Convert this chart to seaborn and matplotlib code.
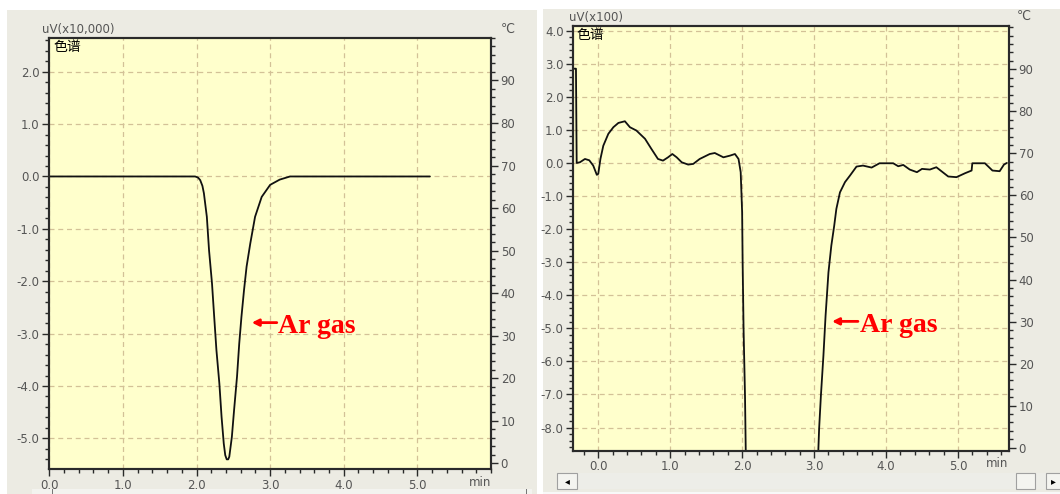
import numpy as np
import pandas as pd
import matplotlib
matplotlib.use("Agg")
import matplotlib.pyplot as plt
from matplotlib.patches import Rectangle
from matplotlib.ticker import MultipleLocator, FixedLocator
import seaborn as sns

# ---------------- data ----------------
# Left chromatogram (uV x10,000)
left_t = [0.0, 1.98, 2.02, 2.05, 2.08, 2.10, 2.14, 2.17, 2.21, 2.24, 2.27, 2.31, 2.34, 2.37, 2.39,
          2.41, 2.43, 2.445, 2.48, 2.51, 2.55, 2.58, 2.61, 2.645, 2.68, 2.73, 2.795, 2.885, 3.0,
          3.13, 3.27, 5.17]
left_v = [0.0, 0.0, -0.02, -0.07, -0.18, -0.32, -0.77, -1.41, -2.04, -2.68, -3.31, -3.95, -4.59, -5.10, -5.32,
          -5.40, -5.40, -5.35, -4.97, -4.46, -3.82, -3.19, -2.68, -2.17, -1.72, -1.28, -0.77, -0.39, -0.16,
          -0.06, 0.0, 0.0]

# Right chromatogram (uV x100)
right_t = [-0.35, -0.31, -0.30, -0.255, -0.185, -0.125, -0.07, -0.02, 0.0, 0.03, 0.07, 0.14,
           0.21, 0.28, 0.37, 0.44, 0.53, 0.65, 0.74, 0.83, 0.90, 0.97, 1.03, 1.09, 1.16,
           1.25, 1.32, 1.41, 1.55, 1.62, 1.74, 1.83, 1.90, 1.95, 1.98, 2.0, 2.007, 2.02,
           2.04, 2.05, 2.06, 3.05, 3.06, 3.07, 3.095, 3.13, 3.16, 3.20, 3.24, 3.28, 3.31,
           3.36, 3.43, 3.50, 3.59, 3.68, 3.80, 3.91, 4.10, 4.17, 4.24, 4.33, 4.43, 4.50,
           4.61, 4.70, 4.865, 4.98, 5.10, 5.19, 5.20, 5.375, 5.48, 5.58, 5.64, 5.68]
right_v = [2.85, 2.85, 0.0, 0.02, 0.12, 0.08, -0.08, -0.36, -0.33, 0.12, 0.52, 0.88,
           1.08, 1.21, 1.26, 1.08, 0.98, 0.73, 0.42, 0.12, 0.07, 0.17, 0.27, 0.17, 0.02,
           -0.05, -0.03, 0.12, 0.27, 0.30, 0.17, 0.22, 0.27, 0.12, -0.28, -1.49, -3.0, -5.02,
           -7.04, -8.65, -10.0, -10.0, -8.65, -8.05, -7.04, -5.83, -4.62, -3.31, -2.50, -1.90, -1.39,
           -0.89, -0.58, -0.38, -0.11, -0.08, -0.14, -0.01, -0.01, -0.10, -0.06, -0.20, -0.28, -0.18,
           -0.20, -0.13, -0.41, -0.43, -0.31, -0.23, -0.01, -0.01, -0.23, -0.25, -0.05, 0.0]

x_ticks = [0.0, 1.0, 2.0, 3.0, 4.0, 5.0]
x_labels = ["0.0", "1.0", "2.0", "3.0", "4.0", "5.0"]
left_y_ticks = [2.0, 1.0, 0.0, -1.0, -2.0, -3.0, -4.0, -5.0]
right_y_ticks = [4.0, 3.0, 2.0, 1.0, 0.0, -1.0, -2.0, -3.0, -4.0, -5.0, -6.0, -7.0, -8.0]
temp_ticks = [0, 10, 20, 30, 40, 50, 60, 70, 80, 90]

left_unit = "uV(x10,000)"
right_unit = "uV(x100)"
title_cn = "色谱"
temp_unit = "℃"
annot = "Ar gas"

# ---------------- style ----------------
sns.set_style("white")
plt.rcParams['font.family'] = ['DejaVu Sans', 'Noto Sans CJK SC']

W, H = 1060, 494
fig = plt.figure(figsize=(W / 100, H / 100), dpi=100)
fig.patch.set_facecolor("white")

PANEL = "#ECEBE3"
PLOT_BG = "#FFFFCC"
GRID = "#D3C197"
TICKC = "#555555"
SPINE = "#2a2a2a"


def rect(x0, y0, x1, y1, **kw):
    r = Rectangle((x0 / W, 1 - y1 / H), (x1 - x0) / W, (y1 - y0) / H,
                  transform=fig.transFigure, **kw)
    fig.add_artist(r)
    return r


def ftext(x, y, s, **kw):
    fig.text(x / W, 1 - y / H, s, **kw)


# panel backgrounds
rect(7, 10, 537, 494, facecolor=PANEL, edgecolor="none", zorder=0)
rect(543, 9, 1060, 494, facecolor=PANEL, edgecolor="none", zorder=0)


def make_axes(x0, y0, x1, y1):
    return fig.add_axes([x0 / W, 1 - y1 / H, (x1 - x0) / W, (y1 - y0) / H])


def style_axes(ax, ax2, xlim, ylim, tlim, yticks):
    ax.set_facecolor(PLOT_BG)
    ax.set_xlim(*xlim)
    ax.set_ylim(*ylim)
    ax.xaxis.set_major_locator(FixedLocator(x_ticks))
    ax.set_xticklabels(x_labels)
    ax.xaxis.set_minor_locator(MultipleLocator(0.2))
    ax.yaxis.set_major_locator(FixedLocator(yticks))
    ax.set_yticklabels([f"{v:.1f}" for v in yticks])
    ax.yaxis.set_minor_locator(MultipleLocator(0.2))
    ax.grid(True, which="major", color=GRID, linestyle=(0, (4, 3)), linewidth=0.9)
    ax.set_axisbelow(True)
    for sp in ax.spines.values():
        sp.set_color(SPINE)
        sp.set_linewidth(1.5)
    ax.tick_params(which="major", direction="out", length=5, width=1.0, color=SPINE,
                   labelsize=8.5, labelcolor=TICKC, pad=2)
    ax.tick_params(which="minor", direction="out", length=3, width=1.0, color=SPINE)
    ax.tick_params(axis="both", which="both", bottom=True, left=True, top=False, right=False)
    ax.set_xlabel("")
    ax.set_ylabel("")

    ax2.set_ylim(*tlim)
    ax2.yaxis.set_major_locator(FixedLocator(temp_ticks))
    ax2.set_yticklabels([str(v) for v in temp_ticks])
    ax2.yaxis.set_minor_locator(MultipleLocator(2))
    ax2.tick_params(which="major", direction="out", length=5, width=1.0, color=SPINE,
                    labelsize=8.5, labelcolor=TICKC, pad=2)
    ax2.tick_params(which="minor", direction="out", length=3, width=1.0, color=SPINE)
    for sp in ax2.spines.values():
        sp.set_color(SPINE)
        sp.set_linewidth(1.5)
    ax2.set_ylabel("")


# ---------------- left panel ----------------
axL = make_axes(49.3, 37.7, 491, 469.3)
dfL = pd.DataFrame({"t": left_t, "v": left_v})
sns.lineplot(data=dfL, x="t", y="v", ax=axL, color="#111111", linewidth=1.3,
             estimator=None, sort=False)
axL2 = axL.twinx()
style_axes(axL, axL2, (0.0, 6.0), (-5.59, 2.649), (-1.48, 100.07), left_y_ticks)

axL.annotate("", xy=(2.75, -2.79), xytext=(3.09, -2.79),
             arrowprops=dict(arrowstyle="-|>", color="#FF0000", lw=2.0,
                             mutation_scale=10, shrinkA=0, shrinkB=0))
axL.text(3.11, -2.87, annot, color="#FF0000", fontsize=20, fontweight="bold",
         family="Liberation Serif", va="center", ha="left")
axL.text(0.01, 0.995, title_cn, transform=axL.transAxes, fontsize=10,
         family=["Noto Sans CJK SC"], va="top", ha="left", color="black")

ftext(42, 29, left_unit, fontsize=8.5, color=TICKC, va="center", ha="left")
ftext(501, 29, temp_unit, fontsize=9, color=TICKC, va="center", ha="left")
ftext(491, 482, "min", fontsize=8.5, color=TICKC, va="center", ha="right")

# left scrollbar (mostly cut off)
rect(32, 488.5, 532, 494, facecolor="#F3F3EF", edgecolor="none", zorder=1)
rect(52, 489, 53.2, 494, facecolor="#777777", edgecolor="none", zorder=2)
rect(526, 489, 527.2, 494, facecolor="#777777", edgecolor="none", zorder=2)

# ---------------- right panel ----------------
axR = make_axes(573.3, 26, 1009, 450.7)
dfR = pd.DataFrame({"t": right_t, "v": right_v})
sns.lineplot(data=dfR, x="t", y="v", ax=axR, color="#111111", linewidth=1.3,
             estimator=None, sort=False)
axR2 = axR.twinx()
style_axes(axR, axR2, (-0.347, 5.71), (-8.7, 4.14), (-0.71, 100.3), right_y_ticks)

axR.annotate("", xy=(3.25, -4.79), xytext=(3.61, -4.79),
             arrowprops=dict(arrowstyle="-|>", color="#FF0000", lw=2.0,
                             mutation_scale=10, shrinkA=0, shrinkB=0))
axR.text(3.64, -4.92, annot, color="#FF0000", fontsize=20, fontweight="bold",
         family="Liberation Serif", va="center", ha="left")
axR.text(0.008, 0.995, title_cn, transform=axR.transAxes, fontsize=10,
         family=["Noto Sans CJK SC"], va="top", ha="left", color="black")

ftext(569, 18, right_unit, fontsize=8.5, color=TICKC, va="center", ha="left")
ftext(1017, 16, temp_unit, fontsize=9, color=TICKC, va="center", ha="left")
ftext(1008, 463, "min", fontsize=8.5, color=TICKC, va="center", ha="right")

# right scrollbar
rect(557, 473, 1060, 489, facecolor="#EDEDE8", edgecolor="none", zorder=1)
rect(557, 473, 577, 489, facecolor="#F4F4F0", edgecolor="#A0A0A0", linewidth=0.8, zorder=2)
rect(1016, 473, 1035, 489, facecolor="#F4F4F0", edgecolor="#A0A0A0", linewidth=0.8, zorder=2)
rect(1046, 473, 1062, 489, facecolor="#F4F4F0", edgecolor="#A0A0A0", linewidth=0.8, zorder=2)
ftext(567, 481, "◂", fontsize=7, color="black", va="center", ha="center")
ftext(1053, 481, "▸", fontsize=7, color="black", va="center", ha="center")
rect(543, 491.5, 1060, 494, facecolor="#F8F8F8", edgecolor="none", zorder=1)

fig.savefig("out.png", dpi=100, facecolor=fig.get_facecolor())
